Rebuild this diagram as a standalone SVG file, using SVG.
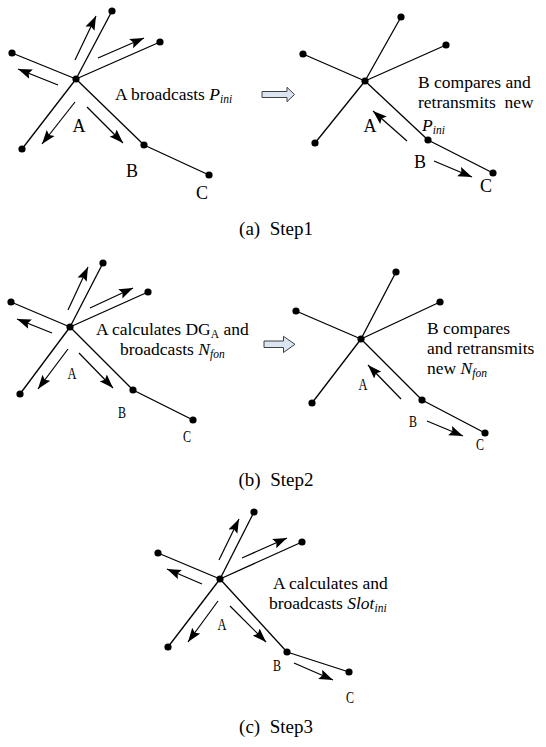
<svg xmlns="http://www.w3.org/2000/svg" width="546" height="747" viewBox="0 0 546 747">
<style>
.ln{stroke:#000;stroke-width:1.3;fill:none}
.ar{stroke:#000;stroke-width:1.2;fill:none;marker-end:url(#ah)}
.dot{fill:#000}
.t{font-family:"Liberation Serif","Times New Roman",serif;font-size:17.5px;fill:#000}
.lb{font-family:"Liberation Serif","Times New Roman",serif;font-size:18px;fill:#000;text-anchor:middle}
.nl{font-family:"Liberation Serif","Times New Roman",serif;font-size:17px;fill:#000;text-anchor:middle}
.cap{font-family:"Liberation Serif","Times New Roman",serif;font-size:19px;fill:#000;text-anchor:middle}
.sub{font-size:11.5px;font-style:italic}
.it{font-style:italic}
.big{fill:#dbe5f1;stroke:#404040;stroke-width:1}
</style>
<defs>
<marker id="ah" markerUnits="userSpaceOnUse" markerWidth="15" markerHeight="11" refX="14" refY="5.5" orient="auto">
<path d="M0,0.5 L14,5.5 L0,10.5 L2.5,5.5 z" fill="#000"/>
</marker>
</defs>

<!-- Panel (a) left -->
<g id="a-left">
<g id="connectors-a-left">
<line class="ln" x1="76" y1="79" x2="112" y2="11"/>
<line class="ln" x1="76" y1="79" x2="160" y2="42"/>
<line class="ln" x1="76" y1="79" x2="12" y2="53"/>
<line class="ln" x1="76" y1="79" x2="22" y2="149"/>
<line class="ln" x1="76" y1="79" x2="144" y2="145"/>
<line class="ln" x1="144" y1="145" x2="209" y2="175"/>
<line class="ar" x1="75" y1="60" x2="96" y2="16"/>
<line class="ar" x1="98" y1="58" x2="144" y2="38"/>
<line class="ar" x1="58" y1="85" x2="18" y2="69"/>
<line class="ar" x1="75" y1="102" x2="42" y2="144"/>
<line class="ar" x1="87" y1="107" x2="123" y2="143"/>
</g>
<g id="a-nA"><circle class="dot" cx="76" cy="79" r="3.6"/><text class="lb" x="79" y="132">A</text></g>
<g id="a-n1"><circle class="dot" cx="112" cy="11" r="3.6"/></g>
<g id="a-n2"><circle class="dot" cx="160" cy="42" r="3.6"/></g>
<g id="a-n3"><circle class="dot" cx="12" cy="53" r="3.6"/></g>
<g id="a-n4"><circle class="dot" cx="22" cy="149" r="3.6"/></g>
<g id="a-nB"><circle class="dot" cx="144" cy="145" r="3.6"/><text class="lb" x="132" y="177">B</text></g>
<g id="a-nC"><circle class="dot" cx="209" cy="175" r="3.6"/><text class="lb" x="202" y="199">C</text></g>
<text class="t" x="115" y="100">A broadcasts <tspan class="it">P</tspan><tspan class="sub" dy="3">ini</tspan></text>
</g>
<polygon id="a-bigarrow" class="big" points="262,91.5 287,91.5 287,87.3 294.5,94.5 287,101.7 287,97.5 262,97.5"/>

<!-- Panel (a) right -->
<g id="a-right">
<g id="connectors-a-right">
<line class="ln" x1="365" y1="81" x2="401" y2="17"/>
<line class="ln" x1="365" y1="81" x2="446" y2="45"/>
<line class="ln" x1="365" y1="81" x2="303" y2="54"/>
<line class="ln" x1="365" y1="81" x2="315" y2="143"/>
<line class="ln" x1="365" y1="81" x2="428" y2="140"/>
<line class="ln" x1="428" y1="140" x2="493" y2="173"/>
<line class="ar" x1="407" y1="141" x2="373" y2="111"/>
<line class="ar" x1="434" y1="161" x2="472" y2="177"/>
</g>
<g id="b-nA1"><circle class="dot" cx="365" cy="81" r="3.6"/><text class="lb" x="370" y="132">A</text></g>
<g id="b-n1"><circle class="dot" cx="401" cy="17" r="3.6"/></g>
<g id="b-n2"><circle class="dot" cx="446" cy="45" r="3.6"/></g>
<g id="b-n3"><circle class="dot" cx="303" cy="54" r="3.6"/></g>
<g id="b-n4"><circle class="dot" cx="315" cy="143" r="3.6"/></g>
<g id="b-nB1"><circle class="dot" cx="428" cy="140" r="3.6"/><text class="lb" x="420" y="168">B</text></g>
<g id="b-nC1"><circle class="dot" cx="493" cy="173" r="3.6"/><text class="lb" x="486" y="192">C</text></g>
<text class="t" x="418" y="88">B compares and</text>
<text class="t" x="418" y="108" xml:space="preserve">retransmits  new</text>
<text class="t" x="422" y="131"><tspan class="it">P</tspan><tspan class="sub" dy="3">ini</tspan></text>
</g>
<text class="cap" x="276" y="235" xml:space="preserve">(a)  Step1</text>

<!-- Panel (b) left -->
<g id="b-left">
<g id="connectors-b-left">
<line class="ln" x1="70" y1="327" x2="103" y2="263"/>
<line class="ln" x1="70" y1="327" x2="148" y2="292"/>
<line class="ln" x1="70" y1="327" x2="11" y2="302"/>
<line class="ln" x1="70" y1="327" x2="20" y2="394"/>
<line class="ln" x1="70" y1="327" x2="133" y2="390"/>
<line class="ln" x1="133" y1="390" x2="193" y2="420"/>
<line class="ar" x1="68" y1="310" x2="88" y2="267"/>
<line class="ar" x1="90" y1="308" x2="133" y2="288"/>
<line class="ar" x1="52" y1="333" x2="17" y2="319"/>
<line class="ar" x1="68" y1="349" x2="38" y2="389"/>
<line class="ar" x1="79" y1="353" x2="113" y2="388"/>
</g>
<g id="c-nA"><circle class="dot" cx="70" cy="327" r="3.6"/><text class="nl" x="72" y="379" textLength="9" lengthAdjust="spacingAndGlyphs">A</text></g>
<g id="c-n1"><circle class="dot" cx="103" cy="263" r="3.6"/></g>
<g id="c-n2"><circle class="dot" cx="148" cy="292" r="3.6"/></g>
<g id="c-n3"><circle class="dot" cx="11" cy="302" r="3.6"/></g>
<g id="c-n4"><circle class="dot" cx="20" cy="394" r="3.6"/></g>
<g id="c-nB"><circle class="dot" cx="133" cy="390" r="3.6"/><text class="nl" x="122" y="418" textLength="8" lengthAdjust="spacingAndGlyphs">B</text></g>
<g id="c-nC"><circle class="dot" cx="193" cy="420" r="3.6"/><text class="nl" x="187" y="442" textLength="8" lengthAdjust="spacingAndGlyphs">C</text></g>
<text class="t" x="96" y="335">A calculates DG<tspan font-size="11.5px" dy="3">A</tspan><tspan dy="-3"> and</tspan></text>
<text class="t" x="120" y="355">broadcasts <tspan class="it">N</tspan><tspan class="sub" dy="3">fon</tspan></text>
</g>
<polygon id="b-bigarrow" class="big" points="264,341 283.5,341 283.5,336.3 295,344.3 283.5,352.5 283.5,347.5 264,347.5"/>

<!-- Panel (b) right -->
<g id="b-right">
<g id="connectors-b-right">
<line class="ln" x1="361" y1="339" x2="396" y2="272"/>
<line class="ln" x1="361" y1="339" x2="440" y2="302"/>
<line class="ln" x1="361" y1="339" x2="296" y2="311"/>
<line class="ln" x1="361" y1="339" x2="312" y2="403"/>
<line class="ln" x1="361" y1="339" x2="422" y2="400"/>
<line class="ln" x1="422" y1="400" x2="485" y2="433"/>
<line class="ar" x1="401" y1="399" x2="368" y2="365"/>
<line class="ar" x1="427" y1="421" x2="463" y2="436"/>
</g>
<g id="d-nA"><circle class="dot" cx="361" cy="339" r="3.6"/><text class="nl" x="363" y="390" textLength="9" lengthAdjust="spacingAndGlyphs">A</text></g>
<g id="d-n1"><circle class="dot" cx="396" cy="272" r="3.6"/></g>
<g id="d-n2"><circle class="dot" cx="440" cy="302" r="3.6"/></g>
<g id="d-n3"><circle class="dot" cx="296" cy="311" r="3.6"/></g>
<g id="d-n4"><circle class="dot" cx="312" cy="403" r="3.6"/></g>
<g id="d-nB"><circle class="dot" cx="422" cy="400" r="3.6"/><text class="nl" x="413" y="427" textLength="8" lengthAdjust="spacingAndGlyphs">B</text></g>
<g id="d-nC"><circle class="dot" cx="485" cy="433" r="3.6"/><text class="nl" x="480" y="450" textLength="8" lengthAdjust="spacingAndGlyphs">C</text></g>
<text class="t" x="427" y="334">B compares</text>
<text class="t" x="427" y="354">and retransmits</text>
<text class="t" x="427" y="374">new <tspan class="it">N</tspan><tspan class="sub" dy="3">fon</tspan></text>
</g>
<text class="cap" x="276" y="486" xml:space="preserve">(b)  Step2</text>

<!-- Panel (c) -->
<g id="c-panel">
<g id="connectors-c">
<line class="ln" x1="220" y1="579" x2="254" y2="512"/>
<line class="ln" x1="220" y1="579" x2="302" y2="542"/>
<line class="ln" x1="220" y1="579" x2="158" y2="553"/>
<line class="ln" x1="220" y1="579" x2="168" y2="647"/>
<line class="ln" x1="220" y1="579" x2="287" y2="652"/>
<line class="ln" x1="287" y1="652" x2="349" y2="672"/>
<line class="ar" x1="219" y1="560" x2="239" y2="519"/>
<line class="ar" x1="242" y1="558" x2="287" y2="538"/>
<line class="ar" x1="202" y1="584" x2="167" y2="569"/>
<line class="ar" x1="218" y1="601" x2="188" y2="642"/>
<line class="ar" x1="230" y1="606" x2="266" y2="642"/>
<line class="ar" x1="294" y1="663" x2="333" y2="680"/>
</g>
<g id="e-nA"><circle class="dot" cx="220" cy="579" r="3.6"/><text class="nl" x="222" y="630" textLength="9" lengthAdjust="spacingAndGlyphs">A</text></g>
<g id="e-n1"><circle class="dot" cx="254" cy="512" r="3.6"/></g>
<g id="e-n2"><circle class="dot" cx="302" cy="542" r="3.6"/></g>
<g id="e-n3"><circle class="dot" cx="158" cy="553" r="3.6"/></g>
<g id="e-n4"><circle class="dot" cx="168" cy="647" r="3.6"/></g>
<g id="e-nB"><circle class="dot" cx="287" cy="652" r="3.6"/><text class="nl" x="277" y="671" textLength="8" lengthAdjust="spacingAndGlyphs">B</text></g>
<g id="e-nC"><circle class="dot" cx="349" cy="672" r="3.6"/><text class="nl" x="350" y="703" textLength="8" lengthAdjust="spacingAndGlyphs">C</text></g>
<text class="t" x="273" y="589">A calculates and</text>
<text class="t" x="269" y="609">broadcasts <tspan class="it">Slot</tspan><tspan class="sub" dy="3">ini</tspan></text>
</g>
<text class="cap" x="276" y="733" xml:space="preserve">(c)  Step3</text>
</svg>
